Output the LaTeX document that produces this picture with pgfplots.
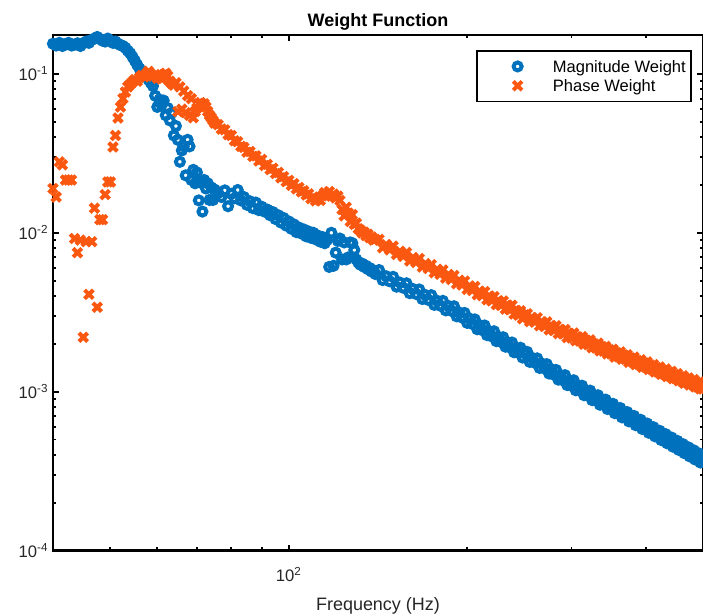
\documentclass[border=0pt]{standalone}
\usepackage{fontspec}
\setmainfont{Liberation Sans}
\usepackage{pgfplots}
\pgfplotsset{compat=1.18}
\usepackage{pgfplotstable}
\definecolor{mblue}{RGB}{0,114,189}
\definecolor{porange}{RGB}{250,88,16}
\definecolor{txtgray}{gray}{0.15}
\pgfplotsset{myleg/.style={legend image code/.code={\path (0pt,0pt) (46pt,0pt); \draw[mark repeat=2,mark phase=2,##1] plot coordinates {(0pt,0pt)(25pt,0pt)(46pt,0pt)};}}}

\pgfplotstableread[row sep=\\]{
f v\\
40 0.155\\ 40.5 0.151\\ 41 0.157\\ 41.5 0.150\\ 42 0.154\\ 42.5 0.157\\ 43 0.151\\ 43.5 0.153\\ 44 0.156\\ 44.5 0.150\\
45 0.156\\ 45.5 0.160\\ 46 0.157\\ 46.5 0.164\\ 47 0.167\\ 47.5 0.171\\ 48 0.166\\ 48.5 0.162\\ 49 0.160\\ 49.5 0.167\\
50 0.162\\ 50.5 0.157\\ 51 0.160\\ 51.5 0.155\\ 52 0.152\\ 52.5 0.150\\ 53 0.146\\ 53.5 0.140\\ 54 0.135\\ 54.5 0.128\\
55 0.121\\ 55.5 0.114\\ 56 0.108\\ 56.5 0.103\\ 57 0.100\\ 57.5 0.096\\ 58 0.092\\ 58.5 0.088\\ 59 0.084\\ 59.5 0.073\\
60 0.062\\ 60.5 0.069\\ 61 0.064\\ 61.5 0.068\\ 62 0.055\\ 62.5 0.061\\ 63 0.051\\ 63.5 0.057\\ 64 0.041\\ 64.5 0.047\\
65 0.0385\\ 65.5 0.028\\ 66 0.033\\ 66.5 0.035\\ 67 0.023\\ 67.5 0.0385\\ 68 0.035\\ 68.5 0.0215\\ 69 0.0249\\ 69.5 0.0205\\
70 0.024\\ 70.5 0.0160\\ 71 0.0207\\ 71.5 0.0136\\ 72 0.0215\\ 72.5 0.0190\\ 73 0.0205\\ 73.5 0.0161\\ 74 0.0193\\ 74.5 0.0161\\
75 0.0187\\ 76 0.0178\\ 77 0.0168\\ 78 0.0185\\ 79 0.0147\\ 80 0.0176\\ 81 0.0165\\ 82 0.0186\\ 83 0.0160\\ 84 0.0168\\
85 0.0150\\ 86 0.0158\\ 87 0.0143\\ 88 0.0155\\ 89 0.0139\\ 90 0.0146\\ 91 0.0136\\ 92 0.0140\\ 93 0.0129\\ 94 0.0135\\
95 0.0122\\ 96 0.0129\\ 97 0.0116\\ 98 0.0124\\ 99 0.0111\\ 100 0.0118\\ 101 0.0106\\ 102 0.0113\\ 103 0.0101\\ 104 0.0108\\
105 0.0099\\ 106 0.0105\\ 107 0.0095\\ 108 0.0102\\ 109 0.0093\\ 110 0.0100\\ 111 0.0091\\ 112 0.0096\\ 113 0.0088\\ 114 0.0094\\
115 0.0086\\ 116 0.0090\\ 117 0.0061\\ 118 0.0100\\ 119 0.0062\\ 120 0.0075\\ 121 0.0089\\ 122 0.0092\\ 123 0.0068\\ 124 0.0087\\
125 0.0068\\ 126 0.0070\\ 127 0.0087\\ 128 0.0086\\ 129 0.0078\\ 130 0.0068\\ 131 0.0065\\ 132 0.0063\\ 133 0.0064\\ 134 0.0061\\
135 0.0062\\ 136 0.0059\\ 137 0.0060\\ 138 0.0057\\ 139 0.0058\\ 140 0.0055\\
142 5.83e-3\\ 144 5.04e-3\\ 146 5.33e-3\\ 148 4.95e-3\\ 150 5.28e-3\\ 152 4.58e-3\\ 154 4.86e-3\\ 156 4.51e-3\\ 158 4.81e-3\\ 160 4.17e-3\\
162 4.43e-3\\ 164 4.12e-3\\ 166 4.40e-3\\ 168 3.83e-3\\ 170 4.06e-3\\ 172 3.78e-3\\ 174 4.05e-3\\ 176 3.52e-3\\ 178 3.73e-3\\ 180 3.48e-3\\
182 3.73e-3\\ 184 3.25e-3\\ 186 3.46e-3\\ 188 3.23e-3\\ 190 3.45e-3\\ 192 2.98e-3\\ 194 3.15e-3\\ 196 2.93e-3\\ 198 3.13e-3\\ 200 2.71e-3\\
202 2.88e-3\\ 204 2.67e-3\\ 206 2.85e-3\\ 208 2.47e-3\\ 210 2.62e-3\\ 212 2.44e-3\\ 214 2.61e-3\\ 216 2.27e-3\\ 218 2.40e-3\\ 220 2.23e-3\\
222 2.40e-3\\ 224 2.08e-3\\ 226 2.21e-3\\ 228 2.06e-3\\ 230 2.20e-3\\ 232 1.92e-3\\ 234 2.04e-3\\ 236 1.90e-3\\ 238 2.04e-3\\ 240 1.77e-3\\
242 1.88e-3\\ 244 1.76e-3\\ 246 1.89e-3\\ 248 1.64e-3\\ 250 1.74e-3\\
252.5 1.78e-3\\ 255 1.54e-3\\ 257.5 1.63e-3\\ 260 1.52e-3\\ 262.5 1.62e-3\\ 265 1.41e-3\\ 267.5 1.50e-3\\ 270 1.40e-3\\ 272.5 1.49e-3\\ 275 1.30e-3\\
277.5 1.38e-3\\ 280 1.28e-3\\ 282.5 1.37e-3\\ 285 1.19e-3\\ 287.5 1.27e-3\\ 290 1.18e-3\\ 292.5 1.27e-3\\ 295 1.10e-3\\ 297.5 1.17e-3\\ 300 1.09e-3\\
302.5 1.18e-3\\ 305 1.02e-3\\ 307.5 1.09e-3\\ 310 1.02e-3\\ 312.5 1.09e-3\\ 315 0.95e-3\\ 317.5 1.01e-3\\ 320 0.946e-3\\ 322.5 1.015e-3\\ 325 0.884e-3\\
327.5 0.944e-3\\ 330 0.883e-3\\ 332.5 0.949e-3\\ 335 0.827e-3\\ 337.5 0.884e-3\\ 340 0.828e-3\\ 342.5 0.891e-3\\ 345 0.778e-3\\ 347.5 0.832e-3\\ 350 0.779e-3\\
352.5 0.838e-3\\ 355 0.732e-3\\ 357.5 0.782e-3\\ 360 0.732e-3\\ 362.5 0.789e-3\\ 365 0.689e-3\\ 367.5 0.737e-3\\ 370 0.691e-3\\ 372.5 0.744e-3\\ 375 0.650e-3\\
377.5 0.696e-3\\ 380 0.652e-3\\ 382.5 0.703e-3\\ 385 0.615e-3\\ 387.5 0.658e-3\\ 390 0.617e-3\\ 392.5 0.665e-3\\ 395 0.582e-3\\ 397.5 0.623e-3\\ 400 0.584e-3\\
402.5 0.630e-3\\ 405 0.551e-3\\ 407.5 0.590e-3\\ 410 0.554e-3\\ 412.5 0.597e-3\\ 415 0.523e-3\\ 417.5 0.560e-3\\ 420 0.526e-3\\ 422.5 0.567e-3\\ 425 0.496e-3\\
427.5 0.532e-3\\ 430 0.500e-3\\ 432.5 0.540e-3\\ 435 0.473e-3\\ 437.5 0.507e-3\\ 440 0.476e-3\\ 442.5 0.514e-3\\ 445 0.450e-3\\ 447.5 0.483e-3\\ 450 0.454e-3\\
452.5 0.490e-3\\ 455 0.430e-3\\ 457.5 0.461e-3\\ 460 0.433e-3\\ 462.5 0.467e-3\\ 465 0.410e-3\\ 467.5 0.440e-3\\ 470 0.413e-3\\ 472.5 0.446e-3\\ 475 0.391e-3\\
477.5 0.420e-3\\ 480 0.395e-3\\ 482.5 0.427e-3\\ 485 0.374e-3\\ 487.5 0.401e-3\\ 490 0.377e-3\\ 492.5 0.408e-3\\ 495 0.358e-3\\ 497.5 0.385e-3\\ 500 0.362e-3\\
}\magdata

\pgfplotstableread[row sep=\\]{
f v\\
40 0.0190\\ 40.5 0.0168\\ 41 0.0280\\ 41.5 0.0268\\ 42 0.0215\\ 42.5 0.0215\\ 43 0.0215\\ 43.5 0.0092\\ 44 0.0075\\ 44.5 0.0090\\
45 0.0022\\ 45.5 0.0088\\ 46 0.0041\\ 46.5 0.0088\\ 47 0.0143\\ 47.5 0.0034\\ 48 0.0121\\ 48.5 0.0121\\ 49 0.0174\\ 49.5 0.0209\\
50 0.0209\\ 50.5 0.0347\\ 51 0.0410\\ 51.5 0.0528\\ 52 0.062\\ 52.5 0.070\\ 53 0.077\\ 53.5 0.083\\ 54 0.086\\ 54.5 0.089\\
55 0.092\\ 55.5 0.090\\ 56 0.095\\ 56.5 0.098\\ 57 0.096\\ 57.5 0.100\\ 58 0.104\\ 58.5 0.100\\ 59 0.097\\ 59.5 0.099\\
60 0.094\\ 60.5 0.096\\ 61 0.093\\ 61.5 0.099\\ 62 0.101\\ 62.5 0.097\\ 63 0.090\\ 63.5 0.087\\ 64 0.085\\ 64.5 0.088\\
65 0.058\\ 65.5 0.083\\ 66 0.060\\ 66.5 0.078\\ 67 0.057\\ 67.5 0.073\\ 68 0.055\\ 68.5 0.070\\ 69 0.053\\ 69.5 0.058\\
70 0.061\\ 70.5 0.065\\ 71 0.066\\ 71.5 0.064\\ 72 0.065\\ 72.5 0.062\\ 73 0.058\\ 73.5 0.055\\ 74 0.053\\ 74.5 0.051\\
75 0.049\\ 76 0.0480\\ 77 0.0450\\ 78 0.0445\\ 79 0.0415\\ 80 0.0410\\ 81 0.0380\\ 82 0.0375\\ 83 0.0350\\ 84 0.0345\\
85 0.0322\\ 86 0.0325\\ 87 0.0303\\ 88 0.0305\\ 89 0.0283\\ 90 0.0290\\ 91 0.0265\\ 92 0.0270\\ 93 0.0250\\ 94 0.0255\\
95 0.0236\\ 96 0.0240\\ 97 0.0222\\ 98 0.0226\\ 99 0.0210\\ 100 0.0214\\ 101 0.0199\\ 102 0.0204\\ 103 0.0189\\ 104 0.0193\\
105 0.0181\\ 106 0.0184\\ 107 0.0173\\ 108 0.0176\\ 109 0.0164\\ 110 0.0168\\ 111 0.0159\\ 112 0.0163\\ 113 0.0160\\ 114 0.0171\\
115 0.0179\\ 116 0.0172\\ 117 0.0182\\ 118 0.0170\\ 119 0.0175\\ 120 0.0166\\ 121 0.0170\\ 122 0.0160\\ 123 0.0140\\ 124 0.0128\\
125 0.0145\\ 126 0.0133\\ 127 0.0118\\ 128 0.0130\\ 129 0.0113\\ 130 0.0115\\ 131 0.0106\\ 132 0.0104\\ 133 0.0100\\ 134 0.0101\\
135 0.0096\\ 136 0.0098\\ 137 0.0093\\ 138 0.0094\\ 139 0.0090\\ 140 0.0091\\
142 9.10e-3\\ 144 8.05e-3\\ 146 8.44e-3\\ 148 7.82e-3\\ 150 8.25e-3\\ 152 7.30e-3\\ 154 7.65e-3\\ 156 7.11e-3\\ 158 7.52e-3\\ 160 6.65e-3\\
162 6.99e-3\\ 164 6.50e-3\\ 166 6.88e-3\\ 168 6.09e-3\\ 170 6.40e-3\\ 172 5.96e-3\\ 174 6.31e-3\\ 176 5.60e-3\\ 178 5.89e-3\\ 180 5.48e-3\\
182 5.83e-3\\ 184 5.18e-3\\ 186 5.46e-3\\ 188 5.08e-3\\ 190 5.39e-3\\ 192 4.78e-3\\ 194 5.03e-3\\ 196 4.69e-3\\ 198 4.97e-3\\ 200 4.40e-3\\
202 4.63e-3\\ 204 4.33e-3\\ 206 4.59e-3\\ 208 4.08e-3\\ 210 4.29e-3\\ 212 4.02e-3\\ 214 4.26e-3\\ 216 3.79e-3\\ 218 4.00e-3\\ 220 3.73e-3\\
222 3.97e-3\\ 224 3.53e-3\\ 226 3.73e-3\\ 228 3.49e-3\\ 230 3.72e-3\\ 232 3.31e-3\\ 234 3.50e-3\\ 236 3.28e-3\\ 238 3.50e-3\\ 240 3.08e-3\\
242 3.24e-3\\ 244 3.03e-3\\ 246 3.23e-3\\ 248 2.88e-3\\ 250 3.05e-3\\
252.5 3.09e-3\\ 255 2.76e-3\\ 257.5 2.92e-3\\ 260 2.74e-3\\ 262.5 2.92e-3\\ 265 2.60e-3\\ 267.5 2.75e-3\\ 270 2.58e-3\\ 272.5 2.75e-3\\ 275 2.45e-3\\
277.5 2.60e-3\\ 280 2.43e-3\\ 282.5 2.60e-3\\ 285 2.32e-3\\ 287.5 2.46e-3\\ 290 2.31e-3\\ 292.5 2.46e-3\\ 295 2.19e-3\\ 297.5 2.33e-3\\ 300 2.18e-3\\
302.5 2.34e-3\\ 305 2.09e-3\\ 307.5 2.21e-3\\ 310 2.08e-3\\ 312.5 2.22e-3\\ 315 1.99e-3\\ 317.5 2.11e-3\\ 320 1.98e-3\\ 322.5 2.12e-3\\ 325 1.89e-3\\
327.5 2.00e-3\\ 330 1.88e-3\\ 332.5 2.02e-3\\ 335 1.805e-3\\ 337.5 1.92e-3\\ 340 1.80e-3\\ 342.5 1.93e-3\\ 345 1.73e-3\\ 347.5 1.84e-3\\ 350 1.73e-3\\
352.5 1.85e-3\\ 355 1.65e-3\\ 357.5 1.76e-3\\ 360 1.66e-3\\ 362.5 1.78e-3\\ 365 1.60e-3\\ 367.5 1.70e-3\\ 370 1.60e-3\\ 372.5 1.71e-3\\ 375 1.53e-3\\
377.5 1.63e-3\\ 380 1.54e-3\\ 382.5 1.65e-3\\ 385 1.48e-3\\ 387.5 1.57e-3\\ 390 1.48e-3\\ 392.5 1.59e-3\\ 395 1.425e-3\\ 397.5 1.52e-3\\ 400 1.43e-3\\
402.5 1.54e-3\\ 405 1.38e-3\\ 407.5 1.47e-3\\ 410 1.38e-3\\ 412.5 1.48e-3\\ 415 1.33e-3\\ 417.5 1.415e-3\\ 420 1.33e-3\\ 422.5 1.43e-3\\ 425 1.285e-3\\
427.5 1.37e-3\\ 430 1.29e-3\\ 432.5 1.39e-3\\ 435 1.245e-3\\ 437.5 1.33e-3\\ 440 1.25e-3\\ 442.5 1.34e-3\\ 445 1.205e-3\\ 447.5 1.28e-3\\ 450 1.21e-3\\
452.5 1.30e-3\\ 455 1.17e-3\\ 457.5 1.24e-3\\ 460 1.17e-3\\ 462.5 1.26e-3\\ 465 1.13e-3\\ 467.5 1.21e-3\\ 470 1.14e-3\\ 472.5 1.22e-3\\ 475 1.10e-3\\
477.5 1.17e-3\\ 480 1.11e-3\\ 482.5 1.19e-3\\ 485 1.07e-3\\ 487.5 1.14e-3\\ 490 1.07e-3\\ 492.5 1.15e-3\\ 495 1.04e-3\\ 497.5 1.10e-3\\ 500 1.04e-3\\
}\phasedata

\begin{document}
\begin{tikzpicture}
\begin{axis}[
  scale only axis, width=488pt, height=387pt,
  xmode=log, ymode=log,
  xmin=40, xmax=500, ymin=1e-4, ymax=0.176,
  xtick={100}, minor xtick={50,60,70,80,90,200,300,400},
  ytick={1e-4,1e-3,1e-2,1e-1},
  axis line style={line width=2pt},
  tick align=inside,
  major tick length=4.5pt, minor tick length=2.6pt,
  every tick/.style={black, line width=1.4pt},
  tick label style={font=\fontsize{12.5}{14}\selectfont, text=txtgray},
  xticklabel={10\textsuperscript{\pgfmathparse{int(round(\tick/2.302585))}\pgfmathresult}},
  yticklabel={10\textsuperscript{\pgfmathparse{int(round(\tick/2.302585))}\pgfmathresult}},
  xticklabel style={yshift=-9pt},
  title={\textbf{Weight Function}},
  title style={font=\fontsize{13.5}{16}\selectfont, yshift=-6pt},
  xlabel={Frequency (Hz)},
  label style={font=\fontsize{13.5}{16}\selectfont, text=txtgray},
  xlabel style={yshift=-5pt},
  legend style={at={(0.983,0.971)}, anchor=north east, draw=black, line width=1.3pt, fill=white,
    font=\fontsize{12.4}{15}\selectfont, inner xsep=4pt, inner ysep=4.5pt, column sep=4pt,
    nodes={inner sep=0pt, text height=11.5pt, text depth=3pt}},
  legend cell align=left,
  clip mode=individual,
]
\addplot[only marks, mark=o, mblue, line width=3pt, mark size=3pt,
  mark options={line width=3pt}, myleg]
  table[x=f, y=v] {\magdata};
\addlegendentry{Magnitude Weight}
\addplot[only marks, mark=x, porange, line width=3pt, mark size=4.6pt,
  mark options={line width=3pt}, myleg]
  table[x=f, y=v] {\phasedata};
\addlegendentry{Phase Weight}
\coordinate (ll) at (rel axis cs:0,0);
\coordinate (ur) at (rel axis cs:1,1);
\end{axis}
\pgfresetboundingbox
\path ([xshift=-39.75pt,yshift=-48.75pt]ll) rectangle ([yshift=26.25pt]ur);
\end{tikzpicture}
\end{document}
